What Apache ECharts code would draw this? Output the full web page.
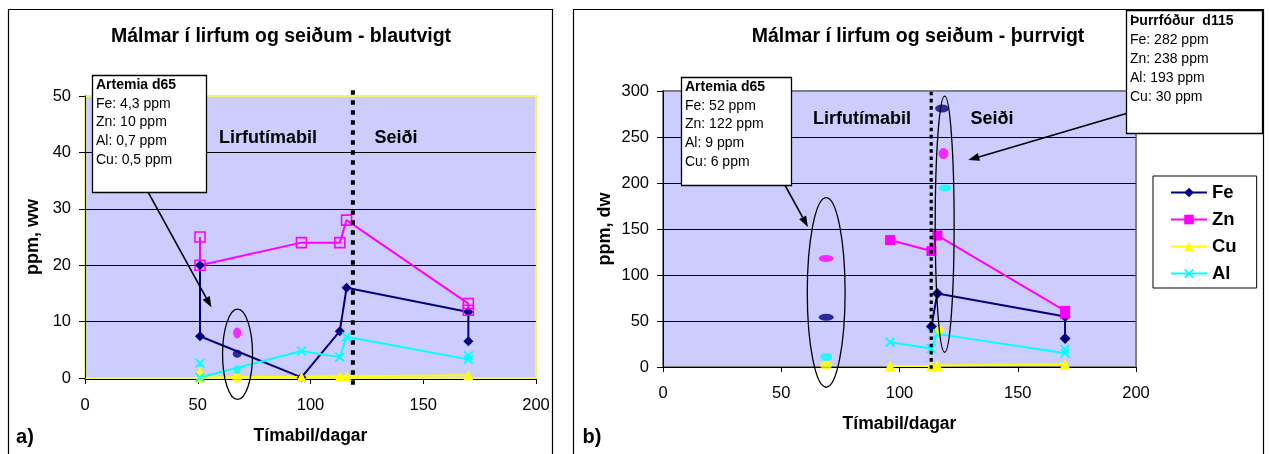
<!DOCTYPE html>
<html><head><meta charset="utf-8">
<script src="https://cdn.jsdelivr.net/npm/echarts@6/dist/echarts.min.js"></script>
<style>html,body{margin:0;padding:0;background:#fff}#c{width:1269px;height:454px}</style>
</head><body><div id="c"></div>
<script>
// ---------- DATA ----------
const metals = ['Fe', 'Zn', 'Cu', 'Al'];
const xTickValues = [0, 50, 100, 150, 200];
const yTicks_a = [0, 10, 20, 30, 40, 50];
const yTicks_b = [0, 50, 100, 150, 200, 250, 300];

// panel a) wet weight (ppm, ww)
const feX_a = [51, 51, 96, 113, 116, 170, 170];
const feY_a = [20, 7.4, 0.1, 8.3, 16, 11.7, 6.5];
const znX_a = [51, 51, 96, 113, 116, 170, 170];
const znY_a = [25, 20, 24, 24, 28, 13.2, 12];
const cuX_a = [51, 51, 96, 113, 116, 170];
const cuY_a = [1.2, 0.1, 0.2, 0.3, 0.3, 0.5];
const alX_a = [51, 51, 96, 113, 116, 170, 170];
const alY_a = [2.6, 0.1, 4.8, 3.7, 7.3, 3.3, 4.0];
const artemiaX_a = [67.5, 67.5, 67.5, 67.5];      // Fe, Zn, Cu, Al
const artemiaY_a = [4.3, 8.0, 0, 1.5];

// panel b) dry weight (ppm, dw)
const feX_b = [113.5, 116, 170, 170];
const feY_b = [44, 80, 55, 31];
const znX_b = [96, 113.5, 116, 170, 170];
const znY_b = [138, 126, 143, 61, 58];
const cuX_b = [96, 113.5, 116, 170];
const cuY_b = [1, 1, 1.5, 3];
const alX_b = [96, 113.5, 116, 170, 170];
const alY_b = [27, 20, 36, 15, 19];
const artemiaX_b = [69, 69, 69, 69];              // Fe, Zn, Cu, Al
const artemiaY_b = [54, 118, 2, 11];
const dryFeedX_b = [118, 118.6, 117, 119.3];      // Fe, Zn, Cu, Al
const dryFeedY_b = [281, 232, 40, 194.6];

const stageBoundary_a = 118.8;
const stageBoundary_b = 113.4;

const titles = ['Málmar í lirfum og seiðum - blautvigt', 'Málmar í lirfum og seiðum - þurrvigt'];
const yNames = ['ppm, ww', 'ppm, dw'];
const xName = 'Tímabil/dagar';
const stageLabels = ['Lirfutímabil', 'Seiði'];
const panelLabels = ['a)', 'b)'];
const noteArtemia_a = ['Artemia d65', 'Fe: 4,3 ppm', 'Zn: 10 ppm', 'Al: 0,7 ppm', 'Cu: 0,5 ppm'];
const noteArtemia_b = ['Artemia d65', 'Fe: 52 ppm', 'Zn: 122 ppm', 'Al: 9 ppm', 'Cu: 6 ppm'];
const noteDryFeed_b = ['Þurrfóður  d115', 'Fe: 282 ppm', 'Zn: 238 ppm', 'Al: 193 ppm', 'Cu: 30 ppm'];

// ---------- STYLE ----------
const FONT = '"Liberation Sans", Arial, sans-serif';
const COLORS = { Fe: '#000080', Zn: '#FF00FF', Cu: '#FFFF00', Al: '#00FFFF' };
const X_PATH = 'path://M0,1.3L1.3,0L5,3.7L8.7,0L10,1.3L6.3,5L10,8.7L8.7,10L5,6.3L1.3,10L0,8.7L3.7,5Z';
const SYM_B = { Fe: 'diamond', Zn: 'rect', Cu: 'triangle', Al: X_PATH };
const ovalA = [[9, 8], [8, 11], [10, 10], [7, 9]];
const ovalB1 = [[15, 7], [15, 7], [12, 9], [12, 8]];
const ovalB2 = [[14, 8], [10, 11], [9, 9], [13, 7]];

const zip = (xs, ys) => xs.map((x, i) => [x, ys[i]]);

const chart = echarts.init(document.getElementById('c'), null, { renderer: 'canvas' });

function xAxisCfg(gi) {
  return {
    gridIndex: gi, type: 'value', min: xTickValues[0], max: xTickValues[xTickValues.length - 1],
    interval: xTickValues[1] - xTickValues[0],
    offset: gi === 0 ? 1 : 0,
    axisLine: { show: true, onZero: false, lineStyle: { color: '#000', width: 1 } },
    axisTick: { show: true, length: 5, inside: false, lineStyle: { color: '#000' } },
    axisLabel: { show: true, color: '#000', fontFamily: FONT, fontSize: 16.5, margin: 18 },
    splitLine: { show: false },
    name: xName, nameLocation: 'middle', nameGap: 48,
    nameTextStyle: { color: '#000', fontFamily: FONT, fontSize: 17.5, fontWeight: 'bold' }
  };
}
function yAxisCfg(gi, ticks, gap) {
  return {
    gridIndex: gi, type: 'value', min: ticks[0], max: ticks[ticks.length - 1],
    interval: ticks[1] - ticks[0],
    axisLine: { show: true, lineStyle: { color: '#000', width: 1 } },
    axisTick: { show: true, length: 6, inside: false, lineStyle: { color: '#000' } },
    axisLabel: { show: true, color: '#000', fontFamily: FONT, fontSize: 16.5, margin: 14 },
    splitLine: { show: true, showMinLine: false, showMaxLine: false, lineStyle: { color: '#000', width: 1 } },
    name: yNames[gi], nameLocation: 'middle', nameGap: gap,
    nameTextStyle: { color: '#000', fontFamily: FONT, fontSize: 18, fontWeight: 'bold' }
  };
}

function lineSeries(name, gi, xs, ys, metal, opts) {
  const c = COLORS[metal];
  return Object.assign({
    name: name, type: 'line', xAxisIndex: gi, yAxisIndex: gi,
    data: zip(xs, ys), showAllSymbol: true, symbolKeepAspect: false,
    lineStyle: { color: c, width: 2 },
    itemStyle: { color: c },
    emphasis: { disabled: true }, z: 3
  }, opts);
}

function clusterSeries(name, gi, xs, ys, sizes) {
  return {
    name: name, type: 'scatter', xAxisIndex: gi, yAxisIndex: gi, z: 4,
    symbol: 'circle', emphasis: { disabled: true }, clip: false,
    data: xs.map((x, i) => ({ value: [x, ys[i]], symbolSize: sizes[i], itemStyle: { color: COLORS[metals[i]] } }))
  };
}

const series = [
  lineSeries('Fe a', 0, feX_a, feY_a, 'Fe', { symbol: 'diamond', symbolSize: 10 }),
  lineSeries('Zn a', 0, znX_a, znY_a, 'Zn', { symbol: 'rect', symbolSize: 10,
    itemStyle: { color: 'rgba(0,0,0,0)', borderColor: COLORS.Zn, borderWidth: 1.6 } }),
  lineSeries('Cu a', 0, cuX_a, cuY_a, 'Cu', { symbol: 'triangle', symbolSize: 10 }),
  lineSeries('Al a', 0, alX_a, alY_a, 'Al', { symbol: X_PATH, symbolSize: 10 }),
  clusterSeries('Artemia a', 0, artemiaX_a, artemiaY_a, ovalA),

  lineSeries('Fe', 1, feX_b, feY_b, 'Fe', { symbol: SYM_B.Fe, symbolSize: 11 }),
  lineSeries('Zn', 1, znX_b, znY_b, 'Zn', { symbol: SYM_B.Zn, symbolSize: 10 }),
  lineSeries('Cu', 1, cuX_b, cuY_b, 'Cu', { symbol: SYM_B.Cu, symbolSize: 11 }),
  lineSeries('Al', 1, alX_b, alY_b, 'Al', { symbol: SYM_B.Al, symbolSize: 10 }),
  clusterSeries('Artemia b', 1, artemiaX_b, artemiaY_b, ovalB1),
  clusterSeries('Þurrfóður b', 1, dryFeedX_b, dryFeedY_b, ovalB2)
];

const option = {
  animation: false,
  backgroundColor: '#fff',
  textStyle: { fontFamily: FONT },
  grid: [
    { left: 85, top: 96, width: 451, height: 282, show: true, backgroundColor: '#CCCCFF', borderColor: '#F4F46A', borderWidth: 2 },
    { left: 663, top: 91, width: 473, height: 276, show: true, backgroundColor: '#CCCCFF', borderColor: '#808080', borderWidth: 2 }
  ],
  xAxis: [xAxisCfg(0), xAxisCfg(1)],
  yAxis: [yAxisCfg(0, yTicks_a, 43), yAxisCfg(1, yTicks_b, 49)],
  legend: {
    show: true, orient: 'vertical', left: 1153, top: 176,
    data: metals, selectedMode: false,
    itemWidth: 36, itemHeight: 12, itemGap: 8,
    padding: [7, 20, 5, 17],
    borderColor: '#000', borderWidth: 1, backgroundColor: '#fff',
    textStyle: { color: '#000', fontFamily: FONT, fontSize: 18.5, fontWeight: 'bold' }
  },
  tooltip: { show: false },
  series: series
};
chart.setOption(option);

// ---------- annotations (positioned from the axes) ----------
function px(gi, pt) { return chart.convertToPixel({ gridIndex: gi }, pt); }

function arrow(gi, from, to) {
  const p1 = px(gi, from), p2 = px(gi, to);
  const dx = p2[0] - p1[0], dy = p2[1] - p1[1], L = Math.hypot(dx, dy);
  const ux = dx / L, uy = dy / L, hl = 11, hw = 4;
  const bx = p2[0] - ux * hl, by = p2[1] - uy * hl;
  return [
    { type: 'line', z: 20, shape: { x1: p1[0], y1: p1[1], x2: bx, y2: by }, style: { stroke: '#000', lineWidth: 1.6 } },
    { type: 'polygon', z: 20, shape: { points: [[p2[0], p2[1]], [bx - uy * hw, by + ux * hw], [bx + uy * hw, by - ux * hw]] }, style: { fill: '#000' } }
  ];
}
function ellipse(gi, x0, x1, y0, y1) {
  const a = px(gi, [x0, y1]), b = px(gi, [x1, y0]);
  return { type: 'ellipse', z: 15, shape: { cx: (a[0] + b[0]) / 2, cy: (a[1] + b[1]) / 2, rx: (b[0] - a[0]) / 2, ry: (b[1] - a[1]) / 2 },
    style: { fill: null, stroke: '#000', lineWidth: 1.3 } };
}
function boundary(gi, xv, ylo, yhi, w, dash) {
  const a = px(gi, [xv, ylo]), b = px(gi, [xv, yhi]);
  return { type: 'line', z: 12, shape: { x1: a[0], y1: a[1], x2: b[0], y2: b[1] },
    style: { stroke: '#000', lineWidth: w, lineDash: dash, lineCap: 'butt' } };
}
function noteBox(x, y, w, h, lines, firstOff) {
  const els = [{ type: 'rect', z: 25, shape: { x: x + 0.5, y: y + 0.5, width: w, height: h }, style: { fill: '#fff', stroke: '#000', lineWidth: 1.3 } }];
  lines.forEach((t, i) => els.push({ type: 'text', z: 26, x: x + 4, y: y + firstOff + i * 18.8,
    style: { text: t, fill: '#000', font: (i === 0 ? 'bold ' : '') + '14px ' + FONT, textVerticalAlign: 'middle', textAlign: 'left' } }));
  return els;
}
function label(x, y, t, size, align) {
  return { type: 'text', z: 30, x: x, y: y, style: { text: t, fill: '#000', font: 'bold ' + size + 'px ' + FONT, textAlign: align || 'center', textVerticalAlign: 'middle' } };
}

const g = [];
// chart frames
g.push({ type: 'rect', z: 0, shape: { x: 8.5, y: 9.5, width: 544, height: 470 }, style: { fill: null, stroke: '#000', lineWidth: 1.2 } });
g.push({ type: 'rect', z: 0, shape: { x: 573.5, y: 9.5, width: 690, height: 470 }, style: { fill: null, stroke: '#000', lineWidth: 1.2 } });
// titles
g.push(label(281, 37, titles[0], 19.5));
g.push(label(918, 37, titles[1], 19.5));
// stage labels
g.push(label(268, 138, stageLabels[0], 18));
g.push(label(396, 138, stageLabels[1], 18));
g.push(label(862, 119, stageLabels[0], 18));
g.push(label(992, 119, stageLabels[1], 18));
// panel letters
g.push(label(25, 437, panelLabels[0], 20));
g.push(label(592, 437, panelLabels[1], 20));
// stage boundaries
g.push(boundary(0, stageBoundary_a, -1.2, 51.2, 4, [4.5, 5.5]));
g.push(boundary(1, stageBoundary_b, -2, 303, 3.2, [3.6, 3.6]));
// ellipses
g.push(ellipse(0, 61, 74.3, -3.8, 12.2));
g.push(ellipse(1, 61, 77, -22, 184));
g.push(ellipse(1, 115.1, 123.1, 16, 294.5));
// arrows
g.push(...arrow(0, [27.8, 33.1], [56.1, 12.5]));
g.push(...arrow(1, [45.7, 225], [61.3, 152.2]));
g.push(...arrow(1, [196.6, 276], [129.1, 225]));
// note boxes
g.push(...noteBox(92, 75, 114, 117, noteArtemia_a, 10));
g.push(...noteBox(681, 77, 110, 108, noteArtemia_b, 10));
g.push(...noteBox(1126, 10, 136, 123, noteDryFeed_b, 11.5));

chart.setOption({ graphic: { elements: g } });
</script>
</body></html>
